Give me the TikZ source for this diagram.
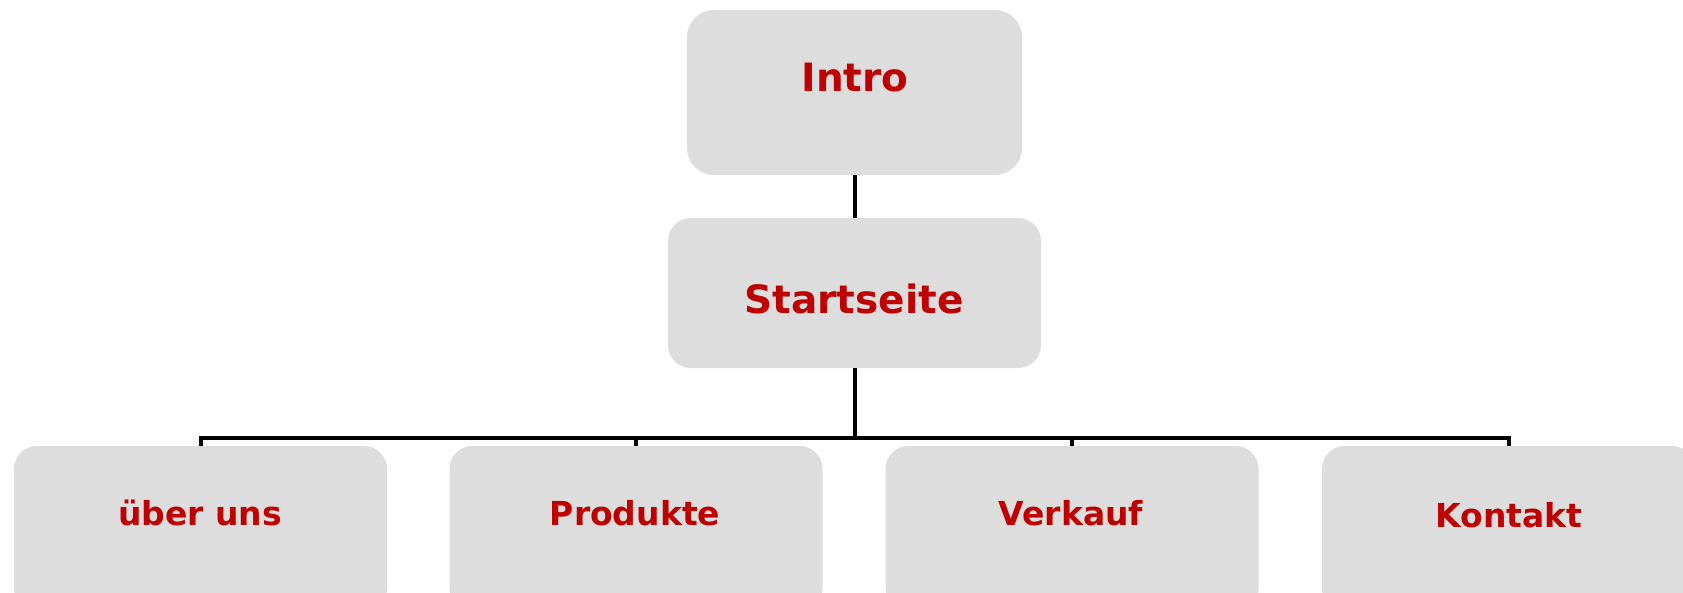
\documentclass[tikz,border=0pt]{standalone}
\usepackage{fontspec}
\setmainfont{DejaVu Sans}
\definecolor{boxgray}{RGB}{221,221,221}
\definecolor{labelred}{RGB}{190,0,0}
\tikzset{
  pagebox/.style={fill=boxgray, draw=none, inner sep=0pt, rounded corners=23pt},
  biglabel/.style={text=labelred, font=\bfseries\fontsize{39}{42}\selectfont, anchor=base, inner sep=0pt},
  smalllabel/.style={text=labelred, font=\bfseries\fontsize{33}{36}\selectfont, anchor=base, inner sep=0pt},
  conn/.style={draw=black, line width=4pt}
}
\begin{document}
\begin{tikzpicture}[x=1pt, y=-1pt]
\useasboundingbox (0,0) rectangle (1683,593);
\clip (0,0) rectangle (1683,593);
\fill[white] (0,0) rectangle (1683,593);

% upper levels
\node[pagebox, rounded corners=27pt, minimum width=335pt, minimum height=165pt] (intro) at (854.5,92.5) {};
\node[pagebox, minimum width=373pt, minimum height=150pt] (start) at (854.5,293) {};

% bottom row
\node[pagebox, minimum width=373pt, minimum height=165pt] (ueber) at (200.5,528.5) {};
\node[pagebox, minimum width=373pt, minimum height=165pt] (produkte) at (636,528.5) {};
\node[pagebox, minimum width=373pt, minimum height=165pt] (verkauf) at (1072,528.5) {};
\node[pagebox, minimum width=373pt, minimum height=165pt] (kontakt) at (1508.5,528.5) {};

% labels
\node[biglabel] (introtxt) at (855,92) {Intro};
\node[biglabel] (starttxt) at (854,314) {Startseite};
\node[smalllabel] (uebertxt) at (200,525) {über uns};
\node[smalllabel] (produktetxt) at (635,525) {Produkte};
\node[smalllabel] (verkauftxt) at (1071,525) {Verkauf};
\node[smalllabel] (kontakttxt) at (1509,527) {Kontakt};

% connectors
\coordinate (bus) at (854.5,438);
\draw[conn] (intro.south) -- (start.north);
\draw[conn] (start.south) -- (bus) -| (ueber.north);
\draw[conn] (bus) -| (produkte.north);
\draw[conn] (bus) -| (verkauf.north);
\draw[conn] (bus) -| (kontakt.north);
\end{tikzpicture}
\end{document}
